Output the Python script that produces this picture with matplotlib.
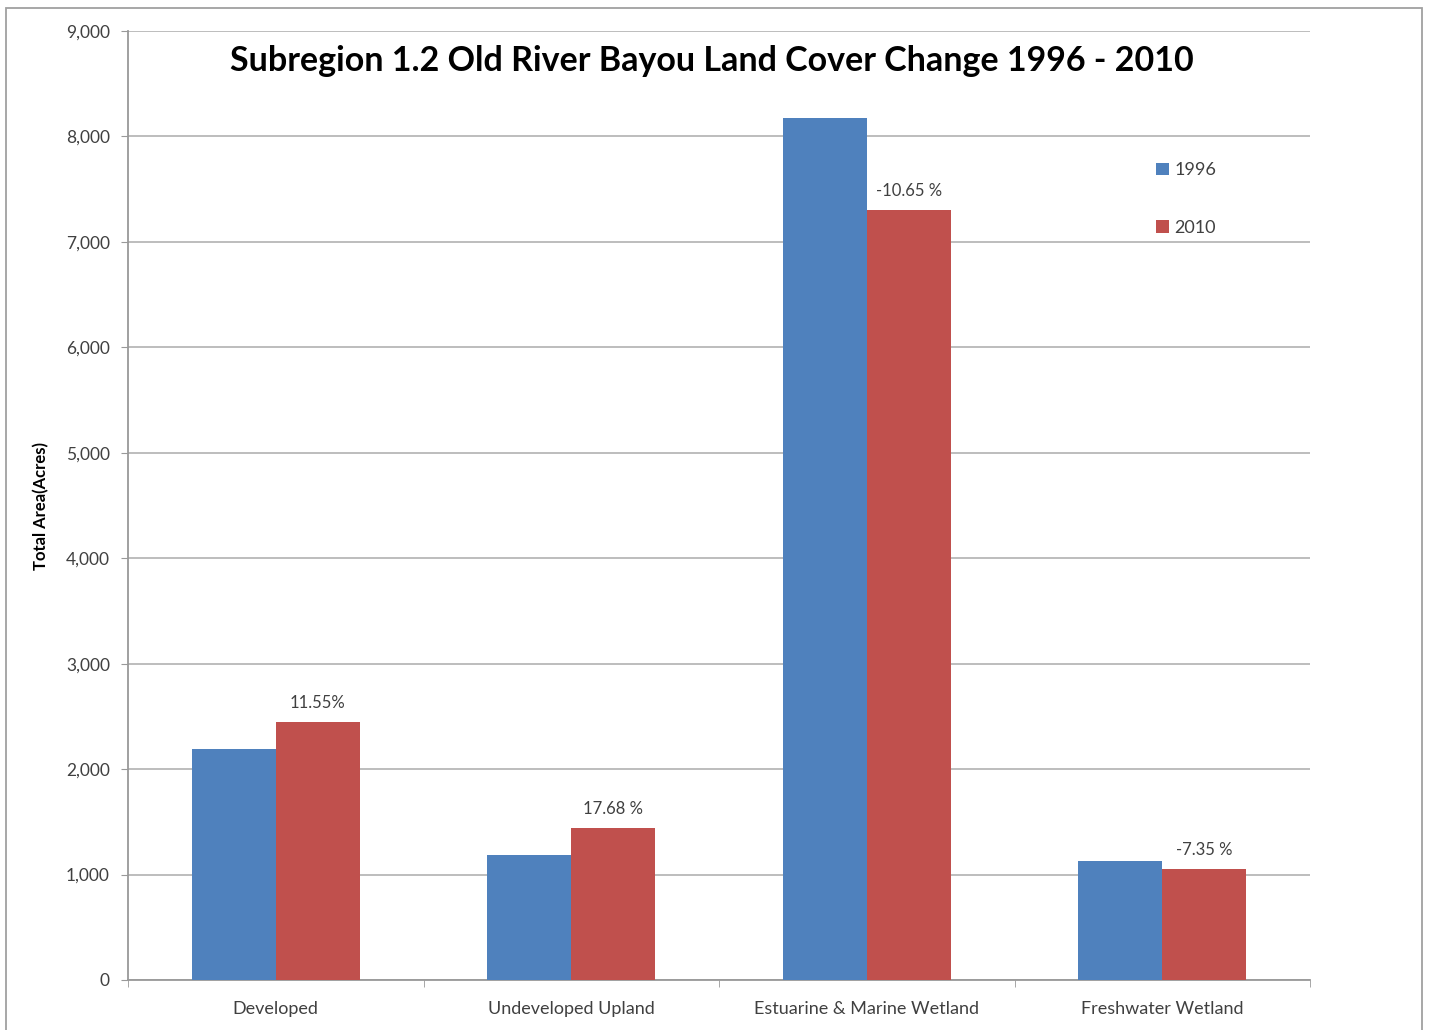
import numpy as np
import matplotlib
matplotlib.use('Agg')
import matplotlib.pyplot as plt
from matplotlib.ticker import FuncFormatter
from matplotlib.patches import Rectangle

categories = ['Developed', 'Undeveloped Upland', 'Estuarine & Marine Wetland', 'Freshwater Wetland']
acres_1996 = [2190, 1185, 8175, 1133]
acres_2010 = [2443, 1445, 7304, 1050]
change_labels = ['11.55%', '17.68 %', '-10.65 %', '-7.35 %']

plt.rcParams['font.family'] = ['Lato', 'DejaVu Sans']

fig = plt.figure(figsize=(14.29, 10.30), dpi=100)
ax = fig.add_axes([128 / 1429, 1 - 980 / 1030, (1310 - 128) / 1429, (980 - 31) / 1030])

x = np.arange(len(categories))
w = 0.285
b1 = ax.bar(x - w / 2, acres_1996, w, color='#4F81BD', label='1996', zorder=3)
b2 = ax.bar(x + w / 2, acres_2010, w, color='#C0504D', label='2010', zorder=3)

for rect, txt in zip(b2, change_labels):
    ax.annotate(txt, (rect.get_x() + rect.get_width() / 2, rect.get_height()),
                xytext=(0, 8), textcoords='offset points', ha='center', va='bottom',
                fontsize=12, color='#404040')

ax.set_xlim(-0.5, len(categories) - 0.5)
ax.set_ylim(0, 9000)
ax.set_yticks(range(0, 9001, 1000))
ax.yaxis.set_major_formatter(FuncFormatter(lambda v, p: f'{int(v):,}'))
ax.set_xticks(x)
ax.set_xticklabels(categories, fontsize=13, color='#404040')
ax.set_xticks(np.arange(-0.5, len(categories), 1), minor=True)
ax.tick_params(axis='x', which='major', length=0, pad=15)
ax.tick_params(axis='x', which='minor', length=5, color='#999999', direction='out')
ax.tick_params(axis='y', length=5, color='#999999', labelsize=12.5, labelcolor='#404040', pad=8)

ax.grid(axis='y', color='#b8b8b8', linewidth=1.3, zorder=0)
for s in ['top', 'right']:
    ax.spines[s].set_visible(False)
ax.spines['left'].set_color('#999999')
ax.spines['bottom'].set_color('#999999')
ax.spines['left'].set_linewidth(1.3)
ax.spines['bottom'].set_linewidth(1.3)

ax.set_ylabel('Total Area(Acres)', fontsize=12, fontweight='bold', labelpad=12)
fig.text(712 / 1429, 1 - 61 / 1030, 'Subregion 1.2 Old River Bayou Land Cover Change 1996 - 2010',
         ha='center', va='center', fontsize=24.5, fontweight='bold')

ax.legend(loc='upper left', bbox_to_anchor=((1140 - 128) / 1182, 1 - (146 - 31) / 949),
          frameon=False, fontsize=13, labelspacing=2.3, handlelength=0.7, handleheight=0.7,
          handletextpad=0.3, labelcolor='#404040')

fig.patches.append(Rectangle((6 / 1429, -0.01), (1422 - 6) / 1429, 1 - 8 / 1030 + 0.01,
                             transform=fig.transFigure, fill=False, edgecolor='#a0a0a0',
                             linewidth=1.3))

fig.savefig('out.png', dpi=100)
